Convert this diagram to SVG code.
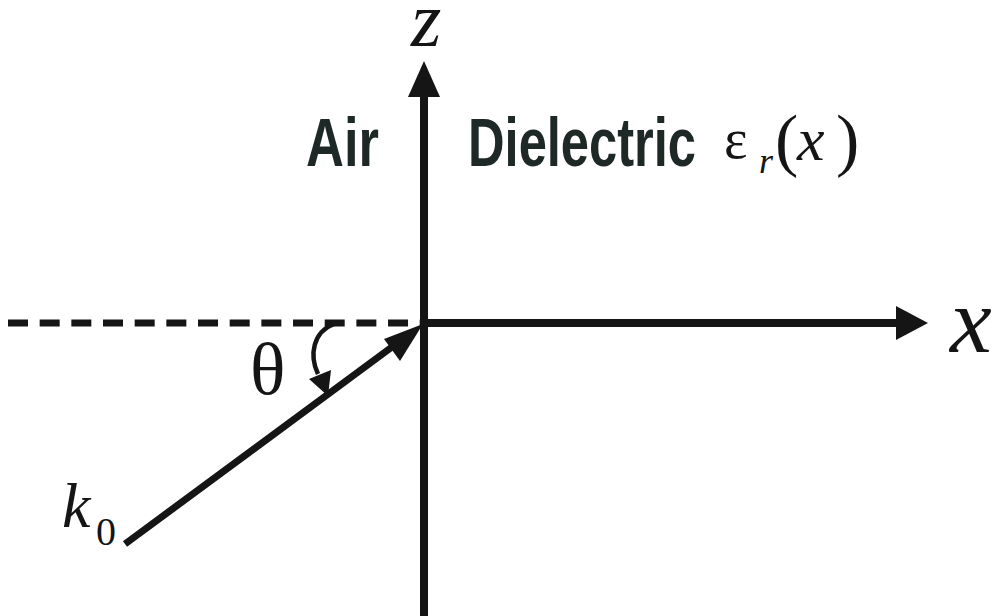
<svg xmlns="http://www.w3.org/2000/svg" width="992" height="616" viewBox="0 0 992 616">
<style>
.ax{stroke:#151515;stroke-width:8;fill:none}
.hd{fill:#151515}
.lbl{font-family:"Liberation Sans",Arial,sans-serif;font-weight:bold;fill:#1e2826}
.m{font-family:"Liberation Serif","Times New Roman",serif;fill:#151515}
.i{font-style:italic}
</style>
<rect width="992" height="616" fill="#fff"/>
<g id="connectors">
<line id="dashed" x1="8" y1="323" x2="420" y2="323" stroke="#151515" stroke-width="7" stroke-dasharray="20 11.67"/>
<line id="z-axis" class="ax" x1="424" y1="94" x2="424" y2="616"/>
<polygon class="hd" points="424,61 408,97 440,97"/>
<line id="x-axis" class="ax" x1="420" y1="323" x2="900" y2="323"/>
<polygon class="hd" points="928,323 896,306 896,340"/>
<line id="k-ray" x1="125" y1="544" x2="396" y2="344" stroke="#151515" stroke-width="7"/>
<polygon class="hd" points="423,324 384,339 400,361"/>
<path id="theta-arc" d="M334,324 C313,332 309,355 318,374" stroke="#151515" stroke-width="4.5" fill="none"/>
<polygon class="hd" points="309,379 331,370 328,396"/>
</g>
<g id="label-z"><text class="m i" x="411" y="46" font-size="78">z</text></g>
<g id="label-x"><text class="m i" x="950" y="352" font-size="94">x</text></g>
<g id="label-air"><text class="lbl" x="306" y="166" font-size="68" textLength="73" lengthAdjust="spacingAndGlyphs">Air</text></g>
<g id="label-dielectric">
<text class="lbl" x="468" y="166" font-size="68" textLength="228" lengthAdjust="spacingAndGlyphs">Dielectric</text>
<text class="m" x="724" y="158" font-size="56">ε<tspan class="i" x="759" y="173" font-size="36">r</tspan><tspan x="775" y="163" font-size="70">(</tspan><tspan class="i" x="797" y="160" font-size="62">x</tspan><tspan x="836" y="163" font-size="70">)</tspan></text>
</g>
<g id="label-theta"><text class="m" x="250" y="394" font-size="74">θ</text></g>
<g id="label-k0">
<text class="m i" x="62" y="527" font-size="64">k<tspan class="m" font-style="normal" x="96" y="545" font-size="40">0</tspan></text>
</g>
</svg>
